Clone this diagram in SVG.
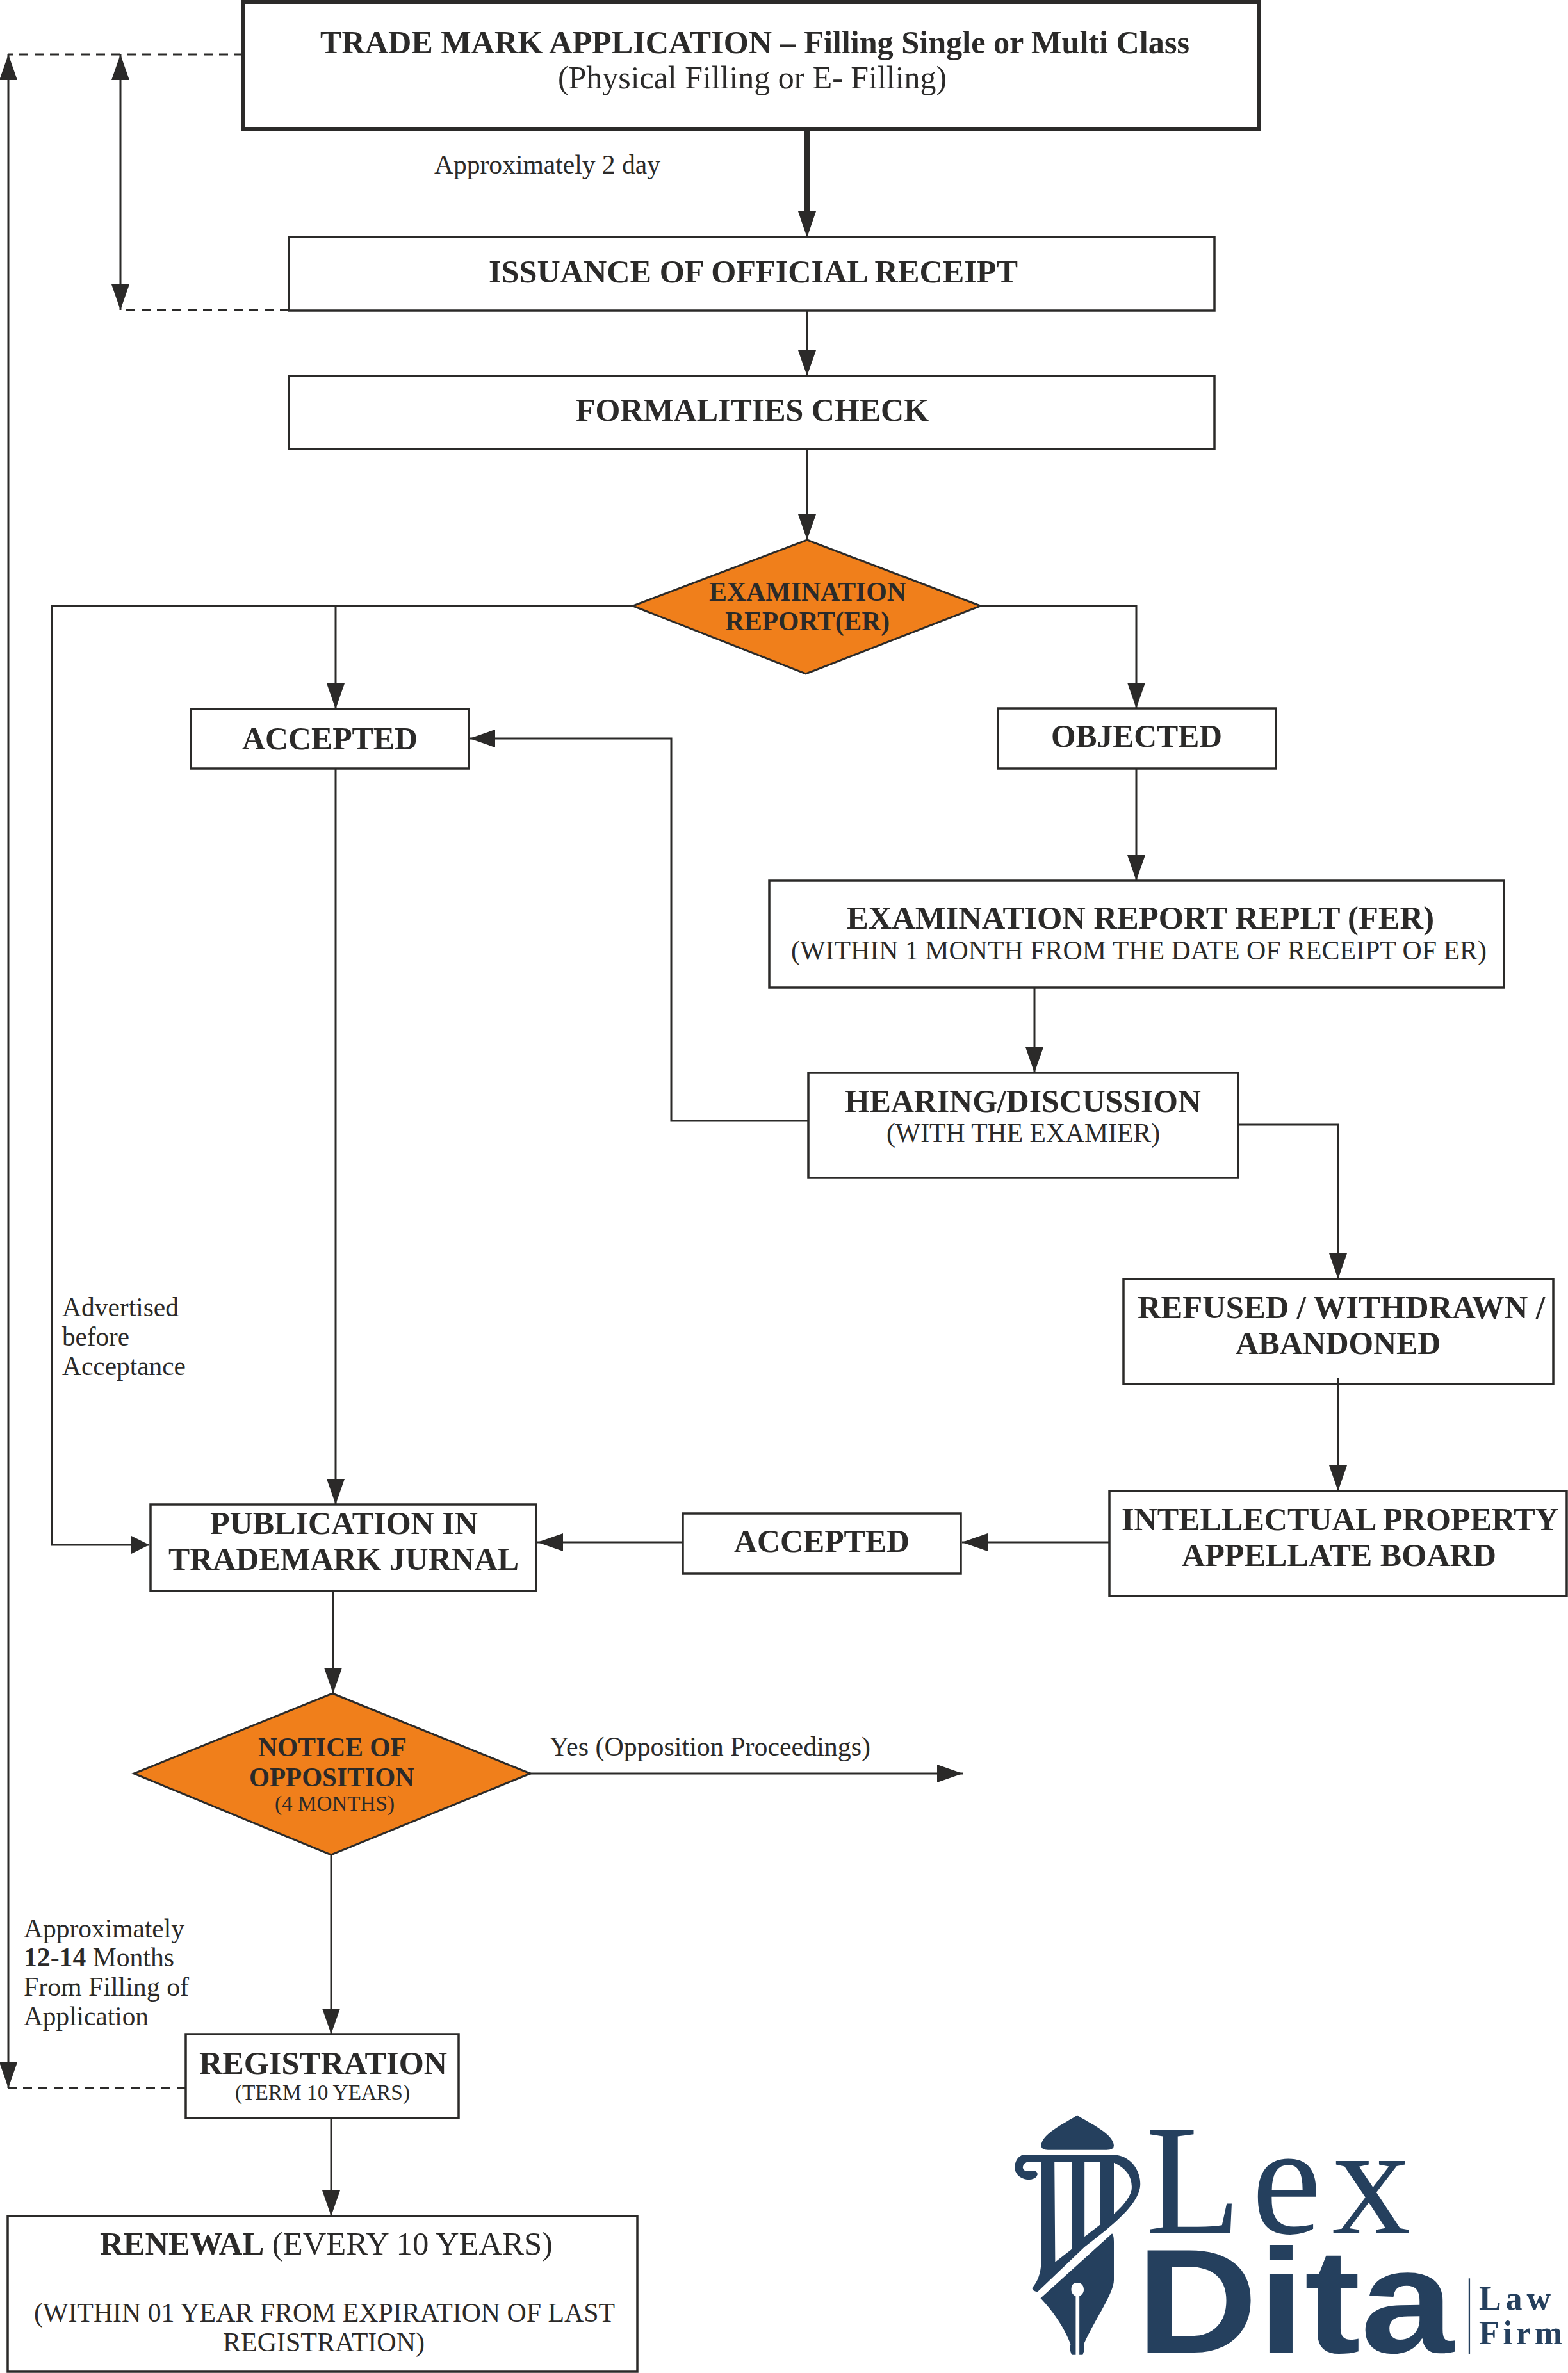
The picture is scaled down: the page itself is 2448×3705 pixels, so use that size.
<svg xmlns="http://www.w3.org/2000/svg" width="2448" height="3705" viewBox="0 0 2448 3705">
<style>
text{font-family:"Liberation Serif","Times New Roman",serif;fill:#2b2a29;font-size:42px}
.b{font-weight:700;font-size:50px}
.n{font-size:50px}
.d{font-weight:700;font-size:42px}
.s{font-size:33px}
.box{fill:#fff;stroke:#2b2a29;stroke-width:3.5}
.dia{fill:#f07f1b;stroke:#2b2a29;stroke-width:3}
.c{fill:none;stroke:#2b2a29;stroke-width:3}
.dash{fill:none;stroke:#2b2a29;stroke-width:3;stroke-dasharray:14 10}
.logo{fill:#25405e}
.logo text{fill:#25405e}
</style>
<defs>
<marker id="a" markerUnits="userSpaceOnUse" markerWidth="40" markerHeight="28" refX="40" refY="14" orient="auto-start-reverse" viewBox="0 0 40 28"><path d="M0 0L40 14L0 28Z" fill="#2b2a29"/></marker>
<marker id="as" markerUnits="userSpaceOnUse" markerWidth="28" markerHeight="28" refX="28" refY="14" orient="auto" viewBox="0 0 28 28"><path d="M0 0L28 14L0 28Z" fill="#2b2a29"/></marker>
</defs>
<rect width="2448" height="3705" fill="#fff"/>

<g id="trade-mark-application">
<rect class="box" style="stroke-width:6" x="380" y="3" width="1586" height="199"/>
<text class="b" x="500" y="83" textLength="1357" lengthAdjust="spacingAndGlyphs">TRADE MARK APPLICATION – Filling Single or Multi Class</text>
<text class="n" x="871" y="138" textLength="607" lengthAdjust="spacingAndGlyphs">(Physical Filling or E- Filling)</text>
</g>
<g id="label-2-day"><text x="678" y="271" textLength="353" lengthAdjust="spacingAndGlyphs">Approximately 2 day</text></g>
<g id="official-receipt">
<rect class="box" x="451" y="370" width="1445" height="115"/>
<text class="b" x="763" y="441" textLength="826" lengthAdjust="spacingAndGlyphs">ISSUANCE OF OFFICIAL RECEIPT</text>
</g>
<g id="formalities-check">
<rect class="box" x="451" y="587" width="1445" height="114"/>
<text class="b" x="899" y="657" textLength="551" lengthAdjust="spacingAndGlyphs">FORMALITIES CHECK</text>
</g>
<g id="examination-report">
<polygon class="dia" points="1260,843 1531,946 1258,1052 988,946"/>
<text class="d" x="1107" y="938" textLength="308" lengthAdjust="spacingAndGlyphs">EXAMINATION</text>
<text class="d" x="1132" y="984" textLength="257" lengthAdjust="spacingAndGlyphs">REPORT(ER)</text>
</g>
<g id="accepted-1">
<rect class="box" x="298" y="1107" width="434" height="93"/>
<text class="b" x="378" y="1170" textLength="274" lengthAdjust="spacingAndGlyphs">ACCEPTED</text>
</g>
<g id="objected">
<rect class="box" x="1558" y="1106" width="434" height="94"/>
<text class="b" x="1641" y="1166" textLength="267" lengthAdjust="spacingAndGlyphs">OBJECTED</text>
</g>
<g id="examination-reply">
<rect class="box" x="1201" y="1375" width="1147" height="167"/>
<text class="b" x="1322" y="1450" textLength="917" lengthAdjust="spacingAndGlyphs">EXAMINATION REPORT REPLT (FER)</text>
<text x="1235" y="1498" textLength="1086" lengthAdjust="spacingAndGlyphs">(WITHIN 1 MONTH FROM THE DATE OF RECEIPT OF ER)</text>
</g>
<g id="hearing">
<rect class="box" x="1262" y="1675" width="671" height="164"/>
<text class="b" x="1319" y="1736" textLength="556" lengthAdjust="spacingAndGlyphs">HEARING/DISCUSSION</text>
<text x="1384" y="1783" textLength="427" lengthAdjust="spacingAndGlyphs">(WITH THE EXAMIER)</text>
</g>
<g id="refused">
<rect class="box" x="1754" y="1997" width="671" height="164"/>
<text class="b" x="1776" y="2058" textLength="636" lengthAdjust="spacingAndGlyphs">REFUSED / WITHDRAWN /</text>
<text class="b" x="1929" y="2114" textLength="320" lengthAdjust="spacingAndGlyphs">ABANDONED</text>
</g>
<g id="appellate-board">
<rect class="box" x="1732" y="2328" width="714" height="164"/>
<text class="b" x="1751" y="2389" textLength="682" lengthAdjust="spacingAndGlyphs">INTELLECTUAL PROPERTY</text>
<text class="b" x="1845" y="2445" textLength="491" lengthAdjust="spacingAndGlyphs">APPELLATE BOARD</text>
</g>
<g id="accepted-2">
<rect class="box" x="1066" y="2363" width="434" height="94"/>
<text class="b" x="1146" y="2423" textLength="274" lengthAdjust="spacingAndGlyphs">ACCEPTED</text>
</g>
<g id="publication">
<rect class="box" x="235" y="2349" width="602" height="135"/>
<text class="b" x="328" y="2395" textLength="418" lengthAdjust="spacingAndGlyphs">PUBLICATION IN</text>
<text class="b" x="263" y="2451" textLength="547" lengthAdjust="spacingAndGlyphs">TRADEMARK JURNAL</text>
</g>
<g id="label-advertised">
<text x="97" y="2055" textLength="182" lengthAdjust="spacingAndGlyphs">Advertised</text>
<text x="97" y="2101" textLength="105" lengthAdjust="spacingAndGlyphs">before</text>
<text x="97" y="2147" textLength="193" lengthAdjust="spacingAndGlyphs">Acceptance</text>
</g>
<g id="notice-of-opposition">
<polygon class="dia" points="519,2644 828,2769 517,2896 209,2769"/>
<text class="d" x="403" y="2742" textLength="232" lengthAdjust="spacingAndGlyphs">NOTICE OF</text>
<text class="d" x="389" y="2789" textLength="258" lengthAdjust="spacingAndGlyphs">OPPOSITION</text>
<text class="s" x="429" y="2827" textLength="187" lengthAdjust="spacingAndGlyphs">(4 MONTHS)</text>
</g>
<g id="label-yes"><text x="858" y="2741" textLength="501" lengthAdjust="spacingAndGlyphs">Yes (Opposition Proceedings)</text></g>
<g id="label-12-14-months">
<text x="37" y="3025" textLength="251" lengthAdjust="spacingAndGlyphs">Approximately</text>
<text x="37" y="3070" textLength="235" lengthAdjust="spacingAndGlyphs"><tspan font-weight="700">12-14</tspan> Months</text>
<text x="37" y="3116" textLength="258" lengthAdjust="spacingAndGlyphs">From Filling of</text>
<text x="37" y="3162" textLength="195" lengthAdjust="spacingAndGlyphs">Application</text>
</g>
<g id="registration">
<rect class="box" x="290" y="3176" width="426" height="131"/>
<text class="b" x="311" y="3238" textLength="387" lengthAdjust="spacingAndGlyphs">REGISTRATION</text>
<text class="s" x="367" y="3278" textLength="273" lengthAdjust="spacingAndGlyphs">(TERM 10 YEARS)</text>
</g>
<g id="renewal">
<rect class="box" x="12" y="3460" width="983" height="243"/>
<text class="n" x="156" y="3520" textLength="707" lengthAdjust="spacingAndGlyphs"><tspan font-weight="700">RENEWAL</tspan> (EVERY 10 YEARS)</text>
<text x="53" y="3625" textLength="907" lengthAdjust="spacingAndGlyphs">(WITHIN 01 YEAR FROM EXPIRATION OF LAST</text>
<text x="348" y="3671" textLength="315" lengthAdjust="spacingAndGlyphs">REGISTRATION)</text>
</g>

<g id="connectors">
<path class="c" style="stroke-width:8" d="M1260 202V335"/>
<path d="M1246 330L1260 371L1274 330Z" fill="#2b2a29"/>
<path class="c" d="M1260 485V587" marker-end="url(#a)"/>
<path class="c" d="M1260 701V843" marker-end="url(#a)"/>
<path class="c" d="M988 946H81V2412H233" marker-end="url(#as)"/>
<path class="c" d="M524 946V1107" marker-end="url(#a)"/>
<path class="c" d="M1531 946H1774V1106" marker-end="url(#a)"/>
<path class="c" d="M524 1200V2349" marker-end="url(#a)"/>
<path class="c" d="M1774 1200V1375" marker-end="url(#a)"/>
<path class="c" d="M1615 1542V1675" marker-end="url(#a)"/>
<path class="c" d="M1262 1750H1048V1153H733" marker-end="url(#a)"/>
<path class="c" d="M1933 1756H2089V1997" marker-end="url(#a)"/>
<path class="c" d="M2089 2152V2328" marker-end="url(#a)"/>
<path class="c" d="M1732 2408H1502" marker-end="url(#a)"/>
<path class="c" d="M1066 2408H839" marker-end="url(#a)"/>
<path class="c" d="M520 2484V2644" marker-end="url(#a)"/>
<path class="c" d="M828 2769H1503" marker-end="url(#a)"/>
<path class="c" d="M517 2896V3176" marker-end="url(#a)"/>
<path class="c" d="M517 3307V3460" marker-end="url(#a)"/>
<path class="c" d="M13 85V3260" marker-start="url(#a)" marker-end="url(#a)"/>
<path class="c" d="M188 85V484" marker-start="url(#a)" marker-end="url(#a)"/>
<path class="dash" d="M380 85H13"/>
<path class="dash" d="M451 484H188"/>
<path class="dash" d="M290 3260H13"/>
</g>

<g id="logo" class="logo">
<g transform="translate(1550 3260) scale(.5727 .3333)">
<path d="M230 127C215 150 132 210 132 270Q132 290 150 290L310 290Q330 290 330 270C330 210 245 150 230 127Z"/>
<path fill-rule="evenodd" d="M90 312L330 312C380 320 402 390 402 450C402 540 330 640 250 745L122 955Q105 950 108 935C125 900 132 860 132 800L132 345L100 345Q80 350 82 375Q85 395 105 388Q122 385 122 405Q118 430 95 430C70 425 58 395 60 365C62 335 72 312 90 312ZM168 345L215 345L215 755L170 815ZM250 345L293 345L293 640L250 697ZM330 350C370 380 382 430 378 480C372 520 350 560 330 590Z"/>
<path fill-rule="evenodd" d="M325 682Q330 690 330 720L330 900C330 960 280 1080 248 1200Q252 1225 245 1250L215 1250Q208 1225 212 1200C190 1100 150 1020 130 985ZM230 912C216 912 214 930 214 945C214 960 220 970 226 976L226 1250L236 1250L236 976C242 970 248 960 248 945C248 930 244 912 230 912Z"/>
<rect x="1297" y="892" width="4" height="353"/>
</g>
<text x="1788" y="3487" textLength="414" lengthAdjust="spacing" style="font-size:245px">Lex</text>
<text x="1774" y="3673" textLength="496" lengthAdjust="spacingAndGlyphs" style="font-family:'Liberation Sans',Arial,sans-serif;font-weight:700;font-size:232px">Dita</text>
<text x="2309" y="3606" textLength="112" lengthAdjust="spacing" style="font-weight:700;font-size:52px">Law</text>
<text x="2309" y="3660" textLength="130" lengthAdjust="spacing" style="font-weight:700;font-size:52px">Firm</text>
</g>
</svg>
